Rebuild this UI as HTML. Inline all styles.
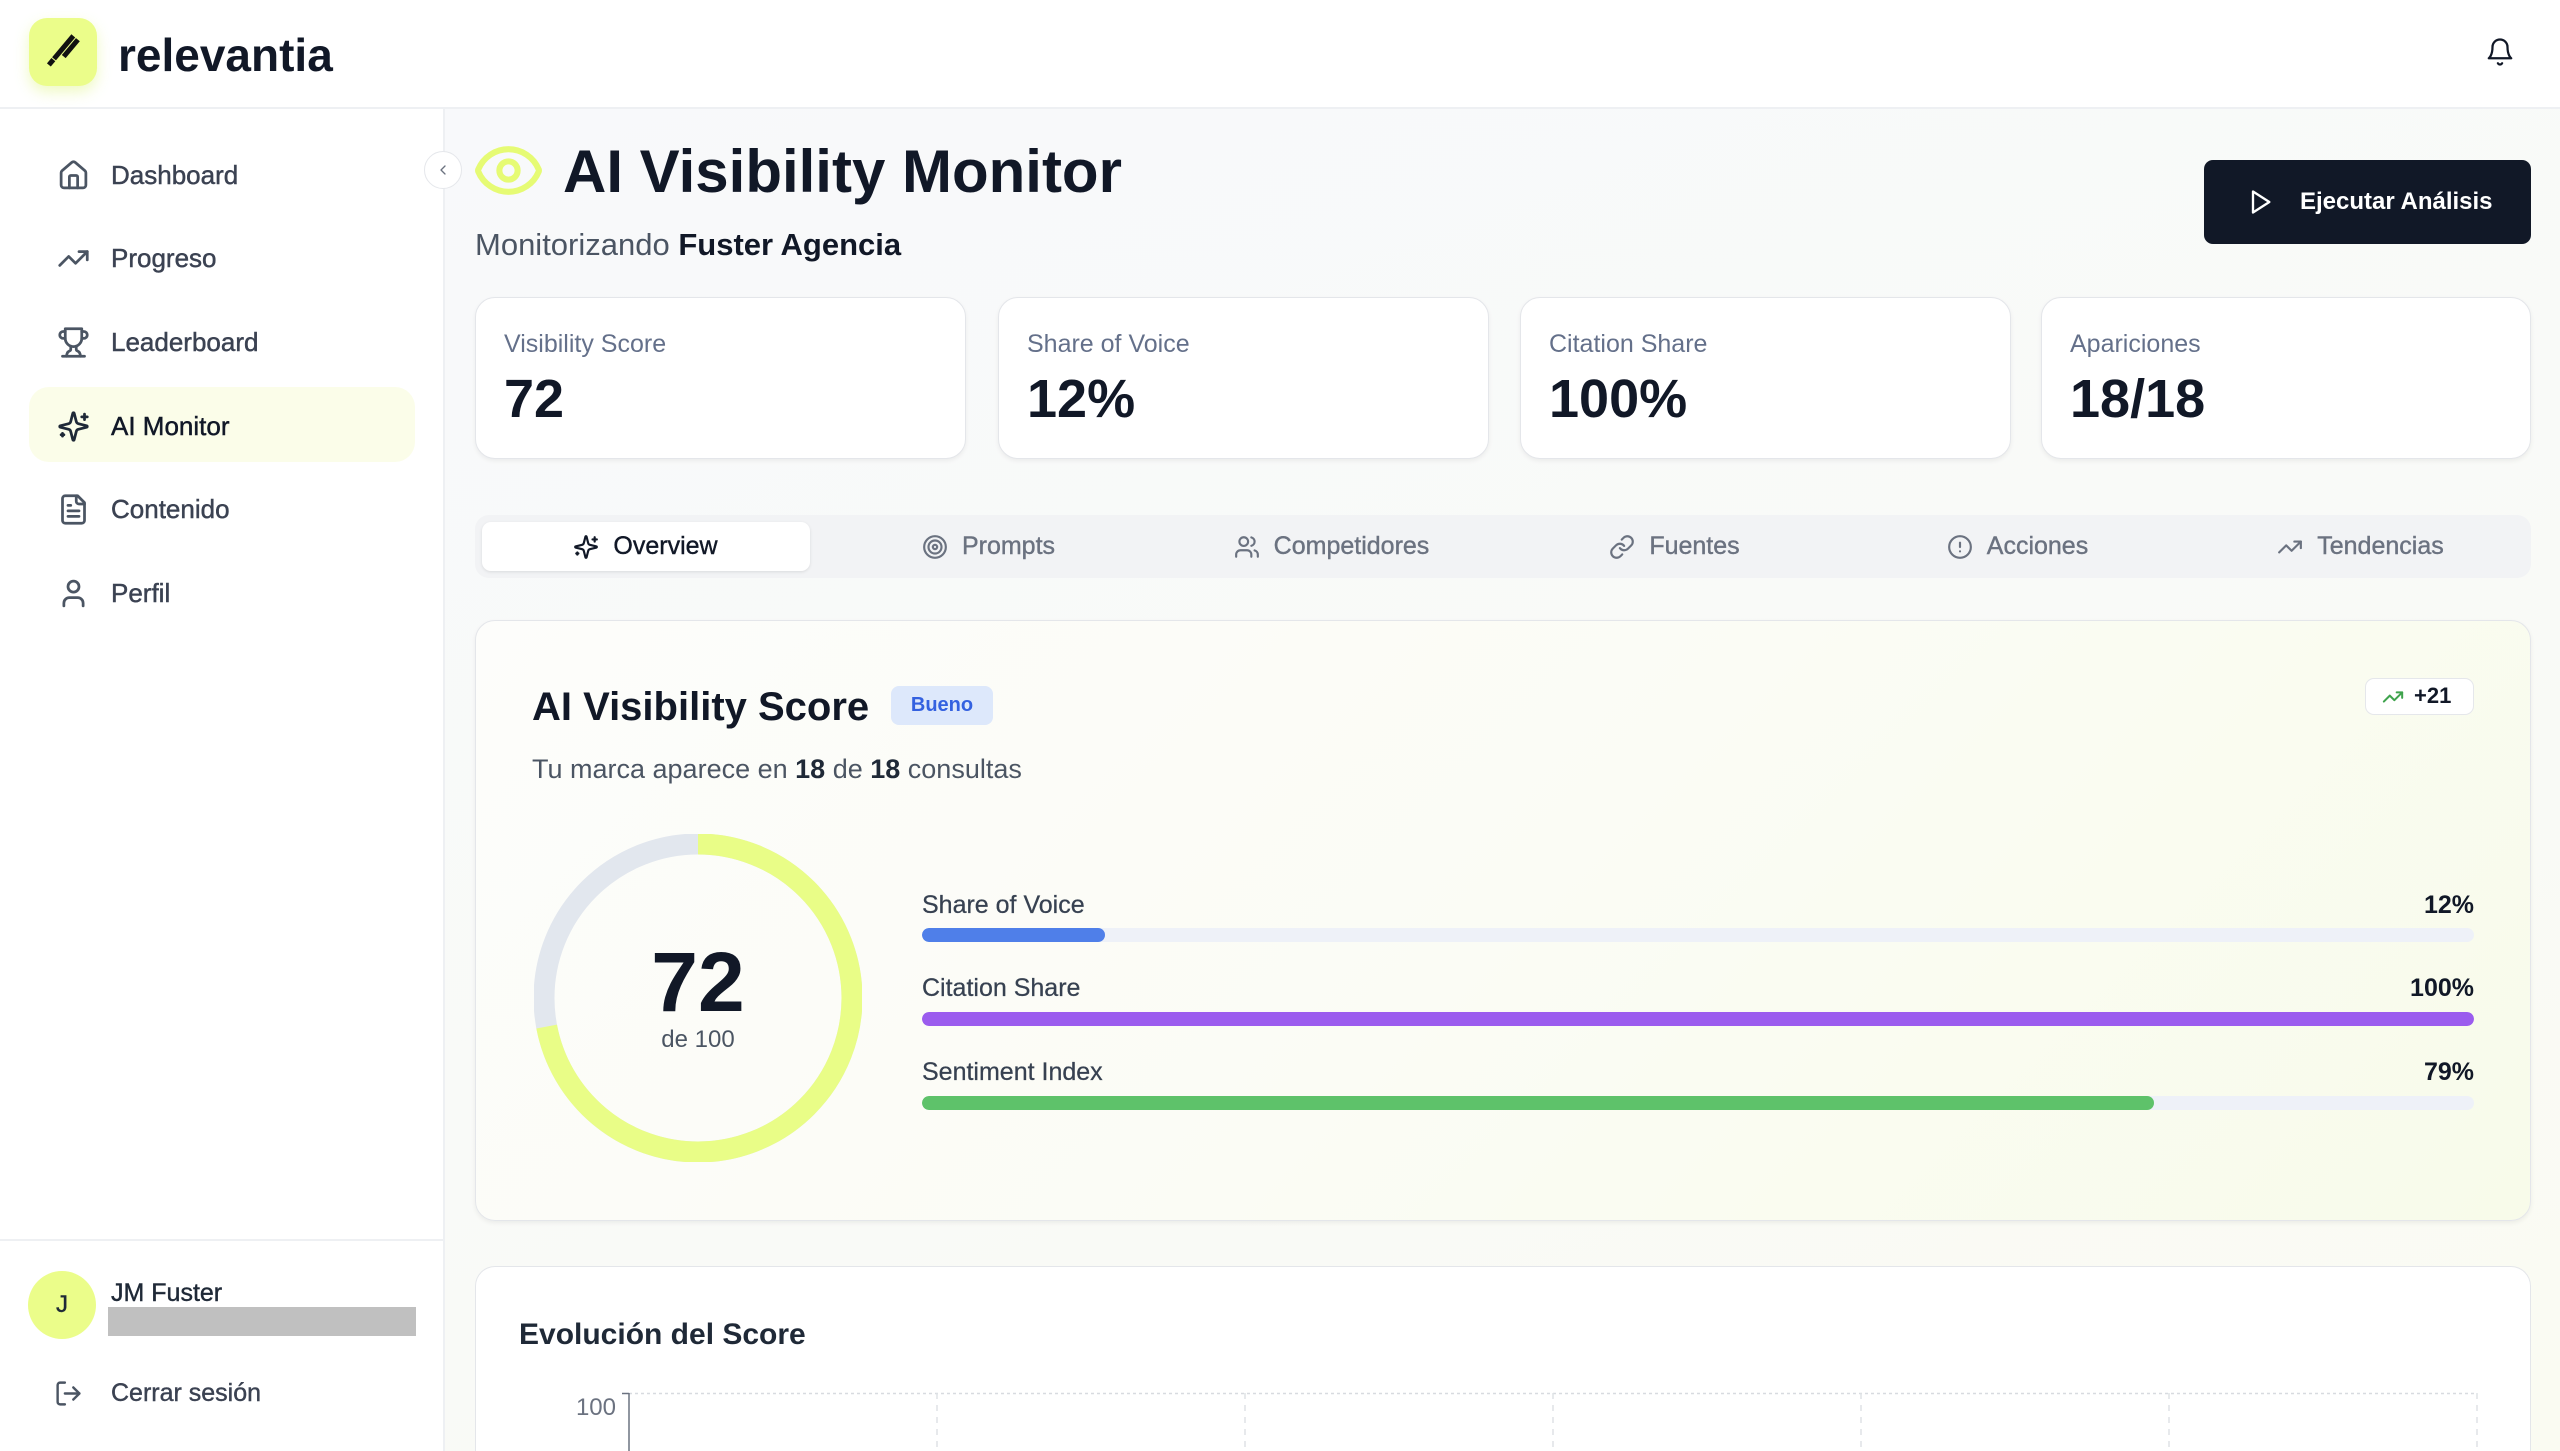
<!DOCTYPE html>
<html><head><meta charset="utf-8">
<style>
*{box-sizing:border-box;margin:0;padding:0}
html,body{width:2560px;height:1451px;overflow:hidden;background:#fff;font-family:"Liberation Sans",Arial,sans-serif;color:#111827}
#root{position:relative;width:2560px;height:1451px;overflow:hidden}
.a{position:absolute;white-space:nowrap}
svg.i{position:absolute;fill:none;stroke-linecap:round;stroke-linejoin:round}
.card{position:absolute;background:#fff;border:1.5px solid #e4e6ea;border-radius:20px;box-shadow:0 2px 5px rgba(0,0,0,0.06)}
.nav{position:absolute;left:111px;font-size:26px;line-height:26px;color:#3b4252;-webkit-text-stroke:0.45px #3b4252}
.lbl{position:absolute;font-size:25px;line-height:25px;color:#64708a}
.val{position:absolute;font-size:54px;line-height:54px;font-weight:bold;color:#111827}
.tab{position:absolute;top:515px;height:63px;width:343px;display:flex;align-items:center;justify-content:center;font-size:25px;color:#6b7280;gap:14px;-webkit-text-stroke:0.4px #6b7280}
.tab svg{position:static;width:26px;height:26px;fill:none;stroke:#6b7280;stroke-width:2;stroke-linecap:round;stroke-linejoin:round}
.blbl{position:absolute;left:922px;font-size:25px;line-height:25px;color:#374151;-webkit-text-stroke:0.25px #374151}
.bval{position:absolute;right:86px;font-size:25px;line-height:25px;font-weight:bold;color:#111827}
.track{position:absolute;left:922px;width:1552px;height:14px;border-radius:7px;background:#eef1f8;overflow:hidden}
.fill{height:14px;border-radius:7px}
</style></head>
<body><div id="root">
<!-- main bg -->
<div class="a" style="left:445px;top:109px;width:2115px;height:1342px;background:linear-gradient(160deg,#f8f9fb 0%,#f9faf7 60%,#fafbf2 100%)"></div>
<!-- header -->
<div class="a" style="left:0;top:0;width:2560px;height:109px;background:#fff;border-bottom:2px solid #eef0f3"></div>
<div class="a" style="left:29px;top:18px;width:68px;height:68px;border-radius:18px;background:#ebfd8a;box-shadow:0 6px 14px rgba(220,245,120,0.45)"></div>
<svg class="a" style="left:29px;top:18px" width="68" height="68" viewBox="0 0 68 68">
<g transform="rotate(40 34 34)"><rect x="29" y="15" width="5" height="30" fill="#111"/><rect x="35" y="15" width="5" height="22" fill="#111"/><rect x="29" y="46" width="5" height="7" fill="#111"/></g></svg>
<div class="a" style="left:118px;top:32px;font-size:46px;line-height:46px;font-weight:bold;color:#111827">relevantia</div>
<svg class="i" style="left:2485px;top:37px;stroke:#111827;stroke-width:1.8" width="30" height="30" viewBox="0 0 24 24"><path d="M6 8a6 6 0 0 1 12 0c0 7 3 9 3 9H3s3-2 3-9"/><path d="M10.3 21a1.94 1.94 0 0 0 3.4 0"/></svg>

<!-- sidebar -->
<div class="a" style="left:0;top:109px;width:445px;height:1342px;background:#fff;border-right:2px solid #eef0f3"></div>
<div class="a" style="left:0;top:1239px;width:444px;height:2px;background:#eef0f3"></div>
<div class="a" style="left:29px;top:387px;width:386px;height:75px;border-radius:20px;background:#fbfde9"></div>

<svg class="i" style="left:57px;top:159px;stroke:#4b5563;stroke-width:2" width="33" height="33" viewBox="0 0 24 24"><path d="M15 21v-8a1 1 0 0 0-1-1h-4a1 1 0 0 0-1 1v8"/><path d="M3 10a2 2 0 0 1 .709-1.528l7-5.999a2 2 0 0 1 2.582 0l7 5.999A2 2 0 0 1 21 10v9a2 2 0 0 1-2 2H5a2 2 0 0 1-2-2z"/></svg>
<div class="nav" style="top:162px">Dashboard</div>
<svg class="i" style="left:57px;top:242px;stroke:#4b5563;stroke-width:2" width="33" height="33" viewBox="0 0 24 24"><polyline points="22 7 13.5 15.5 8.5 10.5 2 17"/><polyline points="16 7 22 7 22 13"/></svg>
<div class="nav" style="top:245px">Progreso</div>
<svg class="i" style="left:57px;top:326px;stroke:#4b5563;stroke-width:2" width="33" height="33" viewBox="0 0 24 24"><path d="M6 9H4.5a2.5 2.5 0 0 1 0-5H6"/><path d="M18 9h1.5a2.5 2.5 0 0 0 0-5H18"/><path d="M4 22h16"/><path d="M10 14.66V17c0 .55-.47.98-.97 1.21C7.850 18.75 7 20.24 7 22"/><path d="M14 14.66V17c0 .55.47.98.97 1.21C16.15 18.75 17 20.24 17 22"/><path d="M18 2H6v7a6 6 0 0 0 12 0V2Z"/></svg>
<div class="nav" style="top:329px">Leaderboard</div>
<svg class="i" style="left:57px;top:410px;stroke:#1f2937;stroke-width:2" width="33" height="33" viewBox="0 0 24 24"><path d="M9.937 15.5A2 2 0 0 0 8.5 14.063l-6.135-1.582a.5.5 0 0 1 0-.962L8.5 9.936A2 2 0 0 0 9.937 8.5l1.582-6.135a.5.5 0 0 1 .963 0L14.063 8.5A2 2 0 0 0 15.5 9.937l6.135 1.581a.5.5 0 0 1 0 .964L15.5 14.063a2 2 0 0 0-1.437 1.437l-1.582 6.135a.5.5 0 0 1-.963 0z"/><path d="M20 3v4"/><path d="M22 5h-4"/><path d="M4 17v2"/><path d="M5 18H3"/></svg>
<div class="nav" style="top:413px;color:#111827;-webkit-text-stroke:0.45px #111827">AI Monitor</div>
<svg class="i" style="left:57px;top:493px;stroke:#4b5563;stroke-width:2" width="33" height="33" viewBox="0 0 24 24"><path d="M15 2H6a2 2 0 0 0-2 2v16a2 2 0 0 0 2 2h12a2 2 0 0 0 2-2V7Z"/><path d="M14 2v4a2 2 0 0 0 2 2h4"/><path d="M10 9H8"/><path d="M16 13H8"/><path d="M16 17H8"/></svg>
<div class="nav" style="top:496px">Contenido</div>
<svg class="i" style="left:57px;top:577px;stroke:#4b5563;stroke-width:2" width="33" height="33" viewBox="0 0 24 24"><circle cx="12" cy="7" r="4"/><path d="M19 21v-2a4 4 0 0 0-4-4H9a4 4 0 0 0-4 4v2"/></svg>
<div class="nav" style="top:580px">Perfil</div>

<!-- user -->
<div class="a" style="left:28px;top:1271px;width:68px;height:68px;border-radius:50%;background:#ebfd8a;font-size:24px;line-height:68px;text-align:center;color:#1f2937;-webkit-text-stroke:0.4px #1f2937">J</div>
<div class="a" style="left:111px;top:1280px;font-size:25px;line-height:26px;color:#1f2937;-webkit-text-stroke:0.4px #1f2937">JM Fuster</div>
<div class="a" style="left:108px;top:1307px;width:308px;height:29px;background:#c0c0c0"></div>
<svg class="i" style="left:54px;top:1379px;stroke:#4b5563;stroke-width:2" width="29" height="29" viewBox="0 0 24 24"><path d="M9 21H5a2 2 0 0 1-2-2V5a2 2 0 0 1 2-2h4"/><polyline points="16 17 21 12 16 7"/><line x1="21" x2="9" y1="12" y2="12"/></svg>
<div class="a" style="left:111px;top:1380px;font-size:25px;line-height:26px;color:#3b4252;-webkit-text-stroke:0.4px #3b4252">Cerrar sesión</div>

<!-- collapse button -->
<div class="a" style="left:424px;top:151px;width:38px;height:38px;border-radius:50%;background:#fff;border:1.5px solid #e5e7eb"></div>
<svg class="i" style="left:435px;top:162px;stroke:#6b7280;stroke-width:2" width="16" height="16" viewBox="0 0 24 24"><path d="m15 18-6-6 6-6"/></svg>

<!-- page header -->
<svg class="i" style="left:472px;top:134px;stroke:#e6fb74;stroke-width:2" width="73" height="73" viewBox="0 0 24 24"><path d="M2.062 12.348a1 1 0 0 1 0-.696 10.75 10.75 0 0 1 19.876 0 1 1 0 0 1 0 .696 10.75 10.75 0 0 1-19.876 0"/><circle cx="12" cy="12" r="3"/></svg>
<div class="a" style="left:563px;top:142px;font-size:60px;line-height:60px;font-weight:bold;color:#111827">AI Visibility Monitor</div>
<div class="a" style="left:475px;top:229px;font-size:31px;line-height:32px;color:#4b5563">Monitorizando <b style="color:#111827">Fuster Agencia</b></div>

<div class="a" style="left:2204px;top:160px;width:327px;height:84px;border-radius:9px;background:#111827"></div>
<svg class="i" style="left:2246px;top:188px;stroke:#fff;stroke-width:2" width="28" height="28" viewBox="0 0 24 24"><polygon points="6 3 20 12 6 21 6 3"/></svg>
<div class="a" style="left:2300px;top:190px;font-size:24px;line-height:24px;font-weight:bold;color:#fff">Ejecutar Análisis</div>

<!-- stat cards -->
<div class="card" style="left:475px;top:297px;width:491px;height:162px"></div>
<div class="card" style="left:998px;top:297px;width:491px;height:162px"></div>
<div class="card" style="left:1520px;top:297px;width:491px;height:162px"></div>
<div class="card" style="left:2041px;top:297px;width:490px;height:162px"></div>
<div class="lbl" style="left:504px;top:332px">Visibility Score</div>
<div class="val" style="left:504px;top:372px">72</div>
<div class="lbl" style="left:1027px;top:332px">Share of Voice</div>
<div class="val" style="left:1027px;top:372px">12%</div>
<div class="lbl" style="left:1549px;top:332px">Citation Share</div>
<div class="val" style="left:1549px;top:372px">100%</div>
<div class="lbl" style="left:2070px;top:332px">Apariciones</div>
<div class="val" style="left:2070px;top:372px">18/18</div>

<!-- tabs -->
<div class="a" style="left:475px;top:515px;width:2056px;height:63px;border-radius:14px;background:#f2f3f5"></div>
<div class="a" style="left:482px;top:522px;width:328px;height:49px;border-radius:9px;background:#fff;box-shadow:0 1px 3px rgba(0,0,0,0.1)"></div>
<div class="tab" style="left:474px;color:#111827;-webkit-text-stroke:0.4px #111827"><svg viewBox="0 0 24 24" style="stroke:#111827"><path d="M9.937 15.5A2 2 0 0 0 8.5 14.063l-6.135-1.582a.5.5 0 0 1 0-.962L8.5 9.936A2 2 0 0 0 9.937 8.5l1.582-6.135a.5.5 0 0 1 .963 0L14.063 8.5A2 2 0 0 0 15.5 9.937l6.135 1.581a.5.5 0 0 1 0 .964L15.5 14.063a2 2 0 0 0-1.437 1.437l-1.582 6.135a.5.5 0 0 1-.963 0z"/><path d="M20 3v4"/><path d="M22 5h-4"/><path d="M4 17v2"/><path d="M5 18H3"/></svg><span>Overview</span></div>
<div class="tab" style="left:817px"><svg viewBox="0 0 24 24"><circle cx="12" cy="12" r="10"/><circle cx="12" cy="12" r="6"/><circle cx="12" cy="12" r="2"/></svg><span>Prompts</span></div>
<div class="tab" style="left:1160px"><svg viewBox="0 0 24 24"><path d="M16 21v-2a4 4 0 0 0-4-4H6a4 4 0 0 0-4 4v2"/><circle cx="9" cy="7" r="4"/><path d="M22 21v-2a4 4 0 0 0-3-3.87"/><path d="M16 3.13a4 4 0 0 1 0 7.75"/></svg><span>Competidores</span></div>
<div class="tab" style="left:1503px"><svg viewBox="0 0 24 24"><path d="M10 13a5 5 0 0 0 7.54.54l3-3a5 5 0 0 0-7.07-7.07l-1.72 1.71"/><path d="M14 11a5 5 0 0 0-7.54-.54l-3 3a5 5 0 0 0 7.07 7.07l1.710-1.71"/></svg><span>Fuentes</span></div>
<div class="tab" style="left:1846px"><svg viewBox="0 0 24 24"><circle cx="12" cy="12" r="10"/><line x1="12" x2="12" y1="8" y2="12"/><line x1="12" x2="12.01" y1="16" y2="16"/></svg><span>Acciones</span></div>
<div class="tab" style="left:2189px"><svg viewBox="0 0 24 24"><polyline points="22 7 13.5 15.5 8.5 10.5 2 17"/><polyline points="16 7 22 7 22 13"/></svg><span>Tendencias</span></div>

<!-- score card -->
<div class="card" style="left:475px;top:620px;width:2056px;height:601px;background:linear-gradient(135deg,#fdfdfb 0%,#fbfcf5 50%,#f8fbea 100%)"></div>
<div class="a" style="left:532px;top:687px;font-size:40px;line-height:40px;font-weight:bold;color:#111827">AI Visibility Score</div>
<div class="a" style="left:891px;top:686px;width:102px;height:39px;border-radius:8px;background:#dde8fb;font-size:20px;line-height:39px;font-weight:bold;color:#3461e0;text-align:center">Bueno</div>
<div class="a" style="left:532px;top:755px;font-size:27px;line-height:28px;color:#4b5563">Tu marca aparece en <b style="color:#1f2937">18</b> de <b style="color:#1f2937">18</b> consultas</div>
<div class="a" style="left:2365px;top:678px;width:109px;height:37px;border-radius:9px;border:1.5px solid #e5e7eb;background:#fff"></div>
<svg class="i" style="left:2382px;top:686px;stroke:#3fa34d;stroke-width:2.2" width="22" height="22" viewBox="0 0 24 24"><polyline points="22 7 13.5 15.5 8.5 10.5 2 17"/><polyline points="16 7 22 7 22 13"/></svg>
<div class="a" style="left:2414px;top:685px;font-size:22px;line-height:22px;font-weight:bold;color:#111827">+21</div>

<svg class="a" style="left:534px;top:834px" width="328" height="328" viewBox="0 0 328 328">
<circle cx="164" cy="164" r="154" fill="none" stroke="#e2e7ee" stroke-width="21"/>
<circle cx="164" cy="164" r="154" fill="none" stroke="#e9fd87" stroke-width="21" stroke-dasharray="696.7 300" transform="rotate(-90 164 164)"/>
</svg>
<div class="a" style="left:598px;top:940px;width:200px;text-align:center;font-size:84px;line-height:84px;font-weight:bold;color:#111827">72</div>
<div class="a" style="left:598px;top:1027px;width:200px;text-align:center;font-size:24px;line-height:26px;color:#4b5563">de 100</div>

<div class="blbl" style="top:893px">Share of Voice</div>
<div class="bval" style="top:893px">12%</div>
<div class="track" style="top:928px"><div class="fill" style="width:183px;background:#4f7fe9"></div></div>
<div class="blbl" style="top:976px">Citation Share</div>
<div class="bval" style="top:976px">100%</div>
<div class="track" style="top:1012px"><div class="fill" style="width:100%;background:#9b5cee"></div></div>
<div class="blbl" style="top:1060px">Sentiment Index</div>
<div class="bval" style="top:1060px">79%</div>
<div class="track" style="top:1096px"><div class="fill" style="width:1232px;background:#5ec26a"></div></div>

<!-- chart card -->
<div class="card" style="left:475px;top:1266px;width:2056px;height:185px;border-bottom:none;border-bottom-left-radius:0;border-bottom-right-radius:0;box-shadow:none"></div>
<div class="a" style="left:519px;top:1320px;font-size:30px;line-height:30px;font-weight:bold;color:#1f2937">Evolución del Score</div>
<div class="a" style="left:540px;top:1396px;width:76px;text-align:right;font-size:24px;line-height:24px;color:#6b7280">100</div>
<svg class="a" style="left:600px;top:1380px" width="1900" height="71" viewBox="600 1380 1900 71">
<line x1="629" y1="1393.5" x2="2477" y2="1393.5" stroke="#d8dbe0" stroke-width="1.5" stroke-dasharray="3 3"/>
<g stroke="#dfe2e6" stroke-width="1.5" stroke-dasharray="6 6">
<line x1="937" y1="1393" x2="937" y2="1451"/><line x1="1245" y1="1393" x2="1245" y2="1451"/><line x1="1553" y1="1393" x2="1553" y2="1451"/><line x1="1861" y1="1393" x2="1861" y2="1451"/><line x1="2169" y1="1393" x2="2169" y2="1451"/><line x1="2477" y1="1393" x2="2477" y2="1451"/>
</g>
<line x1="629" y1="1393" x2="629" y2="1451" stroke="#6b7280" stroke-width="1.5"/>
<line x1="622" y1="1393.5" x2="629" y2="1393.5" stroke="#6b7280" stroke-width="1.5"/>
</svg>
</div></body></html>
